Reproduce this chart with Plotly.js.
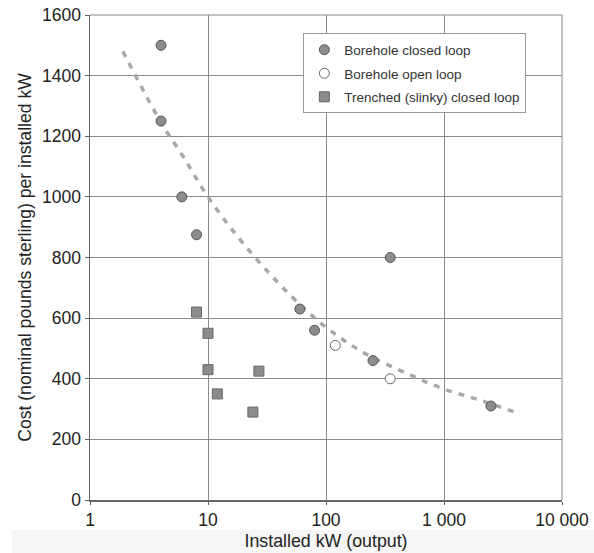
<!DOCTYPE html>
<html>
<head>
<meta charset="utf-8">
<script src="https://cdn.plot.ly/plotly-3.0.1.min.js"></script>
<style>html,body{margin:0;padding:0;background:#fff;}#chart{width:594px;height:553px;}</style>
</head>
<body>
<div id="chart"></div>
<script>
// Borehole closed loop
const closedX = [4, 4, 6, 8, 60, 80, 250, 350, 2500];
const closedY = [1500, 1250, 1000, 875, 630, 560, 460, 800, 310];
// Borehole open loop
const openX = [120, 350];
const openY = [510, 400];
// Trenched (slinky) closed loop
const trenchX = [8, 10, 10, 12, 24, 27];
const trenchY = [620, 550, 430, 350, 290, 425];
// Trend line
const trendX = [1.9, 4, 6, 10, 20, 50, 100, 200, 500, 1000, 2000, 4200];
const trendY = [1480, 1245, 1140, 1000, 845, 675, 570, 490, 415, 366, 330, 287];
// Axis ticks
const xTickVals = [1, 10, 100, 1000, 10000];
const xTickText = ['1', '10', '100', '1 000', '10 000'];
const yTickVals = [0, 200, 400, 600, 800, 1000, 1200, 1400, 1600];

const font = 'Liberation Sans, Arial, sans-serif';

const traces = [
  {x: trendX, y: trendY, mode: 'lines', type: 'scatter', showlegend: false,
   line: {color: '#a8a8a8', width: 3.5, dash: '6px,7px', shape: 'spline'}, hoverinfo: 'skip'},
  {x: closedX, y: closedY, mode: 'markers', type: 'scatter', name: 'Borehole closed loop', legendgroup: 'a',
   marker: {symbol: 'circle', size: 10, color: '#8c8c8c', line: {color: '#555', width: 1}}},
  {x: openX, y: openY, mode: 'markers', type: 'scatter', name: 'Borehole open loop', legendgroup: 'b',
   marker: {symbol: 'circle', size: 10, color: '#ffffff', line: {color: '#666', width: 1}}},
  {x: trenchX, y: trenchY, mode: 'markers', type: 'scatter', name: 'Trenched (slinky) closed loop', legendgroup: 'c',
   marker: {symbol: 'square', size: 10, color: '#8c8c8c', line: {color: '#666', width: 1}}}
];

const layout = {
  width: 594, height: 553,
  margin: {l: 90, r: 32, t: 15, b: 53},
  paper_bgcolor: '#ffffff', plot_bgcolor: '#ffffff',
  font: {family: font, size: 17, color: '#222'},
  showlegend: true,
  legend: {x: 0.452, y: 0.962, xanchor: 'left', yanchor: 'top',
    bgcolor: '#ffffff', bordercolor: '#999', borderwidth: 1,
    font: {family: font, size: 13.5, color: '#333'}, tracegroupgap: 3, itemwidth: 30, traceorder: 'grouped'},
  xaxis: {type: 'log', range: [0, 4], tickvals: xTickVals, ticktext: xTickText,
    showgrid: true, gridcolor: '#8a8a8a', gridwidth: 1, zeroline: false,
    showline: true, linecolor: '#666', linewidth: 1.5, mirror: false,
    ticks: 'outside', ticklen: 3, tickcolor: '#666',
    tickfont: {family: font, size: 17.5, color: '#222'},
    title: {text: 'Installed kW (output)', font: {family: font, size: 17.8, color: '#222'}, standoff: 6}},
  yaxis: {range: [0, 1600], tickvals: yTickVals,
    showgrid: true, gridcolor: '#8a8a8a', gridwidth: 1, zeroline: false,
    showline: true, linecolor: '#666', linewidth: 1.5,
    ticks: 'outside', ticklen: 4, tickcolor: '#666',
    tickfont: {family: font, size: 17.5, color: '#222'},
    title: {text: 'Cost (nominal pounds sterling) per installed kW', font: {family: font, size: 17.6, color: '#222'}, standoff: 6}},
  shapes: [
    {type: 'rect', xref: 'paper', yref: 'paper', x0: -0.165, x1: 1.07, y0: -0.062, y1: -0.12,
     fillcolor: '#f6f6f6', line: {width: 0}, layer: 'below'},
    {type: 'line', xref: 'paper', yref: 'paper', x0: 1, x1: 1, y0: 0, y1: 1, line: {color: '#8a8a8a', width: 1}},
    {type: 'line', xref: 'paper', yref: 'paper', x0: 0, x1: 1, y0: 1, y1: 1, line: {color: '#8a8a8a', width: 1}}
  ]
};

Plotly.newPlot('chart', traces, layout, {displayModeBar: false, staticPlot: true});
</script>
</body>
</html>
